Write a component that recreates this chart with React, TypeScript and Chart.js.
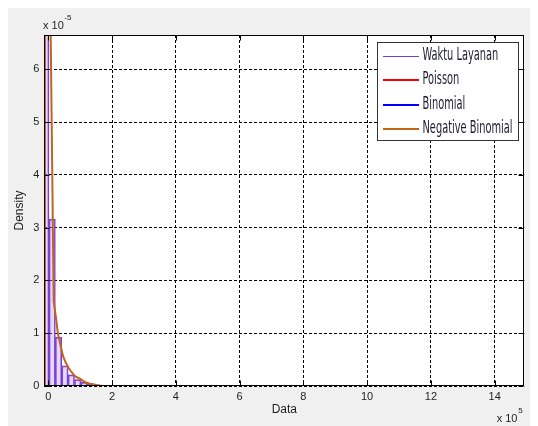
import React, { useEffect, useRef } from "react";
import { Chart, registerables } from "chart.js";

Chart.register(...registerables);

// ---- data (x in units of 10^5, density in units of 10^-5) ----
const seriesNames = ["Waktu Layanan", "Poisson", "Binomial", "Negative Binomial"];
const seriesColors = ["#7a3cd0", "#ff0000", "#0000ff", "#c0651a"];

const binCenters = [-0.078, 0.122, 0.322, 0.522, 0.722, 0.922, 1.122, 1.322, 1.522];
const binDensity = [20, 3.16, 0.92, 0.38, 0.21, 0.12, 0.07, 0.04, 0.02];

const poissonX = [-0.12, 14.2];
const poissonY = [0, 0];

const binomialX = [-0.12, 14.2];
const binomialY = [0, 0];

const negBinX = [-0.105, -0.103, 0.02, 0.17, 0.24, 0.3, 0.38, 0.46, 0.55, 0.64, 0.72, 0.8, 0.88, 0.96, 1.04, 1.12, 1.2, 1.3, 1.4, 1.5, 1.6, 1.72, 14.93];
const negBinY = [0, 40, 9.6, 1.6, 1.3, 1.0, 0.78, 0.57, 0.44, 0.34, 0.27, 0.21, 0.17, 0.15, 0.12, 0.085, 0.065, 0.045, 0.032, 0.018, 0.008, 0, 0];

const xTicks = [0, 2, 4, 6, 8, 10, 12, 14];
const xTickLabels = ["0", "2", "4", "6", "8", "10", "12", "14"];
const yTicks = [0, 1, 2, 3, 4, 5, 6];
const yTickLabels = ["0", "1", "2", "3", "4", "5", "6"];

const xMin = -0.125;
const xMax = 14.93;
const yMin = 0;
const yMax = 6.65;

const FONT = '"Liberation Sans", Arial, sans-serif';
const TEXT = "#1e1e1e";

const pts = (xs: number[], ys: number[]) => xs.map((x, i) => ({ x, y: ys[i] }));

const figurePlugin = {
  id: "figurePlugin",
  beforeDraw(chart: any) {
    const { ctx, width, height, chartArea: a } = chart;
    ctx.save();
    ctx.fillStyle = "#f0f0f0";
    ctx.fillRect(0, 0, width, height);
    ctx.fillStyle = "#ffffff";
    ctx.fillRect(a.left, a.top, a.right - a.left, a.bottom - a.top);
    ctx.restore();
  },
  afterDraw(chart: any) {
    const { ctx, chartArea: a, scales } = chart;
    const xs = scales.x;
    const ys = scales.y;
    ctx.save();
    // frame
    ctx.strokeStyle = "#000";
    ctx.lineWidth = 1;
    ctx.setLineDash([]);
    const L = Math.round(a.left) + 0.5;
    const R = Math.round(a.right) - 0.5;
    const T = Math.round(a.top) + 0.5;
    const B = Math.round(a.bottom) - 0.5;
    ctx.strokeRect(L, T, R - L, B - T);
    // inward tick marks on all sides
    const tl = 5;
    ctx.beginPath();
    xTicks.forEach((v) => {
      const p = Math.round(xs.getPixelForValue(v)) + 0.5;
      ctx.moveTo(p, B);
      ctx.lineTo(p, B - tl);
      ctx.moveTo(p, T);
      ctx.lineTo(p, T + tl);
    });
    yTicks.forEach((v) => {
      const p = Math.round(ys.getPixelForValue(v)) + 0.5;
      ctx.moveTo(L, p);
      ctx.lineTo(L + tl, p);
      ctx.moveTo(R, p);
      ctx.lineTo(R - tl, p);
    });
    ctx.stroke();

    // exponent labels
    ctx.fillStyle = TEXT;
    ctx.textBaseline = "middle";
    ctx.textAlign = "left";
    ctx.font = "11px " + FONT;
    const w1 = ctx.measureText("x 10").width;
    ctx.fillText("x 10", 37, 17.7);
    ctx.fillText("x 10", 490.7, 411);
    ctx.font = "8px " + FONT;
    ctx.fillText("-5", 37 + w1 + 0.5, 10);
    ctx.fillText("5", 490.7 + w1 + 0.8, 403);

    // legend
    const bx = 371.5, by = 34.5, bw = 141, bh = 98;
    ctx.fillStyle = "#ffffff";
    ctx.fillRect(bx, by, bw, bh);
    ctx.strokeStyle = "#333";
    ctx.lineWidth = 1;
    ctx.strokeRect(bx, by, bw, bh);
    const rows = [47.5, 72, 96.5, 121];
    ctx.font = '17px "DejaVu Sans Condensed", "DejaVu Sans", sans-serif';
    const sx = 90 / ctx.measureText("Negative Binomial").width;
    seriesNames.forEach((name, i) => {
      const y = rows[i];
      ctx.strokeStyle = seriesColors[i];
      ctx.lineWidth = i === 0 ? 1 : 2;
      ctx.beginPath();
      ctx.moveTo(377, Math.round(y) + (i === 0 ? 0.5 : 0));
      ctx.lineTo(413, Math.round(y) + (i === 0 ? 0.5 : 0));
      ctx.stroke();
      ctx.save();
      ctx.translate(416.5, y);
      ctx.scale(sx, 1);
      ctx.fillStyle = "#1c1c2c";
      ctx.textBaseline = "middle";
      ctx.fillText(name, 0, 0);
      ctx.restore();
    });
    ctx.restore();
  },
};

export default function App() {
  const ref = useRef<HTMLCanvasElement | null>(null);

  useEffect(() => {
    if (!ref.current) return;
    const chart = new Chart(ref.current, {
      type: "bar",
      data: {
        datasets: [
          {
            type: "bar",
            label: seriesNames[0],
            data: pts(binCenters, binDensity),
            backgroundColor: "rgba(170,130,235,0.3)",
            borderColor: seriesColors[0],
            borderWidth: 1,
            barPercentage: 1,
            categoryPercentage: 1,
            order: 4,
          } as any,
          {
            type: "line",
            label: seriesNames[1],
            data: pts(poissonX, poissonY),
            borderColor: seriesColors[1],
            borderWidth: 2,
            pointRadius: 0,
            tension: 0,
            fill: false,
            order: 3,
          } as any,
          {
            type: "line",
            label: seriesNames[3],
            data: pts(negBinX, negBinY),
            borderColor: seriesColors[3],
            borderWidth: 2,
            pointRadius: 0,
            tension: 0,
            fill: false,
            order: 2,
          } as any,
          {
            type: "line",
            label: seriesNames[2],
            data: pts(binomialX, binomialY),
            borderColor: seriesColors[2],
            borderWidth: 2,
            pointRadius: 0,
            tension: 0,
            fill: false,
            order: 1,
          } as any,
        ],
      },
      options: {
        animation: false,
        responsive: false,
        events: [],
        layout: { padding: { left: 0, top: 27, right: 13.7, bottom: 0 } },
        plugins: { legend: { display: false }, tooltip: { enabled: false } },
        scales: {
          x: {
            type: "linear",
            min: xMin,
            max: xMax,
            offset: false,
            afterBuildTicks: (s: any) => {
              s.ticks = xTicks.map((v) => ({ value: v }));
            },
            afterFit: (s: any) => {
              s.height = 40;
            },
            grid: { color: "#000", lineWidth: 1, drawTicks: false, offset: false },
            border: { display: false, dash: [3, 2] },
            ticks: {
              padding: 4,
              color: TEXT,
              font: { family: FONT, size: 11 },
              maxRotation: 0,
              autoSkip: false,
              callback: (v: any) => xTickLabels[xTicks.indexOf(Number(v))] ?? "",
            },
            title: {
              display: true,
              text: "Data",
              color: TEXT,
              font: { family: FONT, size: 12 },
              padding: { top: 0, bottom: 9 },
            },
          },
          y: {
            type: "linear",
            min: yMin,
            max: yMax,
            afterBuildTicks: (s: any) => {
              s.ticks = yTicks.map((v) => ({ value: v }));
            },
            afterFit: (s: any) => {
              s.width = 38.3;
            },
            grid: { color: "#000", lineWidth: 1, drawTicks: false },
            border: { display: false, dash: [3, 2] },
            ticks: {
              padding: 5,
              color: TEXT,
              font: { family: FONT, size: 11 },
              autoSkip: false,
              callback: (v: any) => yTickLabels[yTicks.indexOf(Number(v))] ?? "",
            },
            title: {
              display: true,
              text: "Density",
              color: TEXT,
              font: { family: FONT, size: 12 },
              padding: { top: 6.8, bottom: 0 },
            },
          },
        },
      },
      plugins: [figurePlugin],
    } as any);
    return () => chart.destroy();
  }, []);

  return (
    <canvas
      ref={ref}
      width={532}
      height={418}
      style={{ display: "block", marginLeft: -2, width: 532, height: 418 }}
    />
  );
}
